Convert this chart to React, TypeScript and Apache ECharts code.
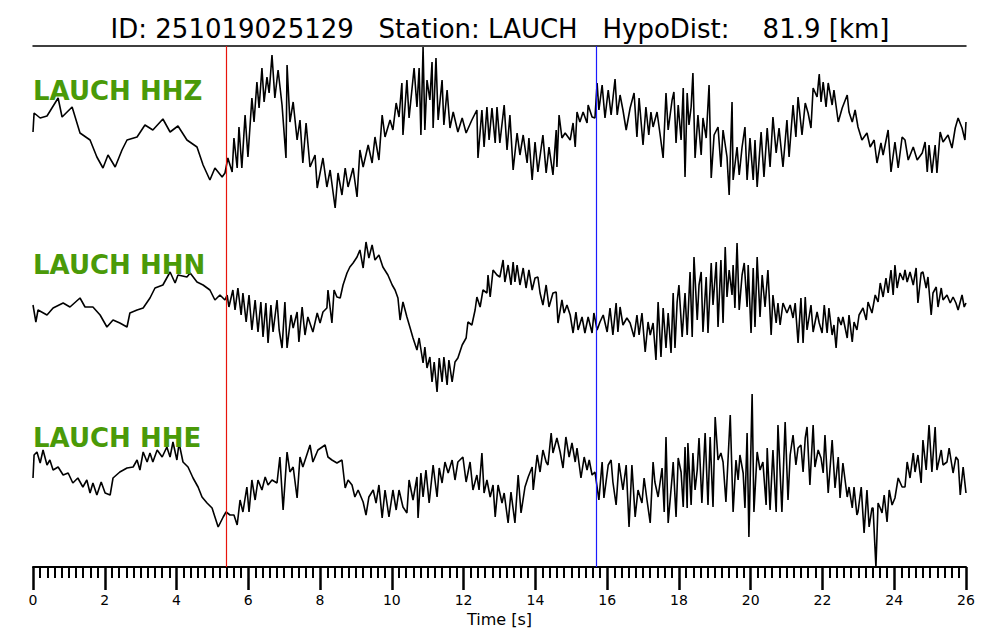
import { useEffect, useRef } from "react";
import * as echarts from "echarts";

const FONT = '"DejaVu Sans", sans-serif';
const TITLE = "ID: 251019025129   Station: LAUCH   HypoDist:    81.9 [km]";
const TIME_MIN = 0;
const TIME_MAX = 26;
const TIME_STEP = 2;
const P_PICK = 5.38;
const S_PICK = 15.69;
const CHANNELS = ["LAUCH HHZ", "LAUCH HHN", "LAUCH HHE"];
const OFFSETS = [440, 265, 95];
const LABEL_VALUES = [476, 302, 129];

// [time (s), amplitude]
const HHZ: [number, number][] = [
  [0,-5],[0.03,14],[0.2,9],[0.39,11],[0.7,29],[0.81,10],[1.09,20],[1.31,-6],[1.59,-13],[1.78,-30],[1.95,-41],[2.09,-28],[2.29,-40],[2.48,-23],[2.62,-13],[2.9,-10],[3.12,2],[3.34,-3],[3.62,8],[3.82,-5],[4.04,1],[4.29,-13],[4.57,-20],[4.74,-38],[4.93,-53],[5.07,-41],[5.27,-50],[5.35,-46],[5.43,-31],[5.55,-45],[5.6,-11],[5.69,-41],[5.74,0],[5.82,-41],[5.91,12],[5.99,-30],[6.1,29],[6.16,5],[6.24,45],[6.3,19],[6.38,59],[6.44,25],[6.52,50],[6.58,34],[6.66,72],[6.74,29],[6.83,57],[6.94,22],[7.05,-31],[7.08,62],[7.16,5],[7.25,25],[7.36,-13],[7.44,7],[7.52,-36],[7.61,4],[7.72,-40],[7.86,-28],[7.92,-61],[8.08,-31],[8.19,-60],[8.28,-43],[8.42,-81],[8.5,-46],[8.61,-68],[8.7,-41],[8.78,-60],[8.92,-41],[9.03,-70],[9.11,-23],[9.2,-40],[9.34,-18],[9.45,-36],[9.53,-10],[9.64,-33],[9.73,12],[9.81,-10],[9.95,7],[10.03,-3],[10.12,24],[10.2,10],[10.28,44],[10.31,-8],[10.42,47],[10.48,9],[10.62,59],[10.7,20],[10.76,59],[10.81,-8],[10.87,80],[10.92,-3],[10.98,47],[11.06,27],[11.12,65],[11.15,-1],[11.23,69],[11.29,7],[11.4,47],[11.45,2],[11.54,37],[11.62,-1],[11.71,15],[11.84,-5],[11.96,9],[12.07,-6],[12.23,7],[12.37,17],[12.4,-31],[12.51,17],[12.57,-20],[12.65,20],[12.71,-13],[12.79,19],[12.88,-16],[12.93,20],[13.01,-16],[13.13,22],[13.21,-23],[13.29,12],[13.38,-43],[13.49,-6],[13.57,-28],[13.66,-8],[13.77,-36],[13.82,-11],[13.91,-53],[13.99,-15],[14.07,-45],[14.21,-8],[14.3,-46],[14.38,-20],[14.49,-48],[14.58,-3],[14.6,-40],[14.66,12],[14.74,-11],[14.83,-6],[14.97,-13],[15.05,4],[15.11,-20],[15.16,15],[15.24,5],[15.33,15],[15.44,4],[15.47,22],[15.58,10],[15.66,9],[15.72,44],[15.77,17],[15.86,42],[15.94,9],[16.03,37],[16.11,12],[16.22,48],[16.28,12],[16.36,32],[16.44,17],[16.53,-3],[16.64,19],[16.75,34],[16.83,-10],[16.89,29],[17.0,-18],[17.08,20],[17.16,-8],[17.22,15],[17.28,0],[17.39,15],[17.47,-6],[17.56,-31],[17.64,34],[17.7,-3],[17.81,27],[17.86,35],[17.92,-16],[17.98,22],[18.06,-13],[18.12,39],[18.17,-50],[18.23,34],[18.28,2],[18.34,20],[18.39,54],[18.45,-31],[18.53,12],[18.62,-28],[18.67,9],[18.76,-11],[18.84,42],[18.9,-51],[18.98,-8],[19.09,0],[19.17,-40],[19.23,-3],[19.34,-30],[19.4,-68],[19.48,25],[19.51,-53],[19.62,-20],[19.68,-48],[19.76,-20],[19.84,0],[19.9,-53],[19.98,-11],[20.07,-53],[20.12,-13],[20.18,-60],[20.29,-5],[20.37,-50],[20.46,-1],[20.54,-40],[20.62,10],[20.71,-26],[20.79,-1],[20.9,-40],[21.01,7],[21.07,-30],[21.18,22],[21.26,-10],[21.32,30],[21.43,-8],[21.52,24],[21.6,14],[21.68,-1],[21.74,39],[21.85,30],[21.91,53],[21.96,25],[22.02,45],[22.1,20],[22.16,44],[22.27,22],[22.32,37],[22.44,5],[22.55,19],[22.69,32],[22.74,15],[22.83,5],[22.91,17],[22.99,0],[23.1,-13],[23.24,-6],[23.33,-20],[23.44,-13],[23.52,-36],[23.63,-16],[23.69,-28],[23.83,-3],[23.91,-45],[24.02,-15],[24.11,-41],[24.22,-10],[24.3,-13],[24.39,-33],[24.53,-20],[24.64,-33],[24.78,-26],[24.86,-15],[24.92,-45],[24.97,-18],[25.05,-46],[25.14,-18],[25.19,-46],[25.28,-5],[25.36,-15],[25.5,-8],[25.61,-21],[25.7,-1],[25.78,9],[25.89,-1],[25.97,-13],[26,5]
];

const HHN: [number, number][] = [
  [0,-3],[0.08,-20],[0.14,-8],[0.39,-13],[0.56,-6],[0.84,-1],[1.03,-5],[1.31,4],[1.45,-5],[1.67,-5],[1.87,-13],[2.06,-25],[2.23,-18],[2.42,-21],[2.62,-25],[2.7,-11],[2.9,-8],[3.07,-6],[3.26,4],[3.4,14],[3.62,17],[3.82,30],[3.96,19],[4.04,27],[4.29,25],[4.38,29],[4.57,20],[4.74,17],[4.93,12],[5.07,2],[5.21,7],[5.35,2],[5.41,7],[5.46,-5],[5.57,12],[5.63,-8],[5.71,14],[5.8,-13],[5.85,9],[5.94,-20],[6.02,7],[6.1,-28],[6.19,2],[6.27,-30],[6.35,0],[6.41,-35],[6.49,-1],[6.55,-41],[6.63,-3],[6.69,-30],[6.8,2],[6.86,-28],[6.94,-46],[7.02,0],[7.08,-46],[7.19,-13],[7.25,-26],[7.36,-10],[7.41,-40],[7.5,-5],[7.58,-33],[7.66,-15],[7.8,-30],[7.92,-11],[8.0,-21],[8.08,-10],[8.19,-6],[8.22,12],[8.33,-21],[8.39,12],[8.47,5],[8.56,4],[8.64,17],[8.75,29],[8.83,35],[8.92,39],[9.03,45],[9.11,52],[9.2,34],[9.28,60],[9.36,44],[9.45,57],[9.53,42],[9.64,47],[9.75,35],[9.89,27],[10.01,17],[10.09,12],[10.17,4],[10.23,-18],[10.31,0],[10.42,-15],[10.51,-26],[10.59,-36],[10.7,-48],[10.76,-36],[10.87,-61],[10.92,-45],[10.98,-66],[11.06,-55],[11.12,-80],[11.18,-60],[11.26,-90],[11.32,-56],[11.4,-80],[11.45,-55],[11.54,-83],[11.59,-58],[11.68,-80],[11.76,-60],[11.84,-56],[11.96,-43],[12.07,-36],[12.12,-20],[12.23,-23],[12.32,-8],[12.37,5],[12.46,-5],[12.54,12],[12.65,9],[12.68,27],[12.74,5],[12.82,32],[12.93,27],[13.01,25],[13.1,42],[13.15,20],[13.24,37],[13.32,17],[13.38,40],[13.43,20],[13.49,37],[13.57,17],[13.66,34],[13.74,14],[13.82,32],[13.91,12],[13.99,24],[14.07,25],[14.13,9],[14.21,-3],[14.3,17],[14.38,-5],[14.49,9],[14.58,10],[14.63,-21],[14.74,2],[14.8,-11],[14.88,-3],[14.97,-13],[15.05,-31],[15.13,-10],[15.19,-28],[15.3,-15],[15.38,-31],[15.47,-15],[15.58,-31],[15.63,-11],[15.72,-28],[15.8,-20],[15.89,-13],[16.0,-30],[16.08,-6],[16.16,-33],[16.25,-1],[16.3,-30],[16.36,-5],[16.44,-23],[16.55,-16],[16.64,-21],[16.75,-35],[16.83,-13],[16.89,-33],[16.97,-11],[17.06,-50],[17.14,-20],[17.2,-33],[17.28,-21],[17.36,-58],[17.42,0],[17.5,-55],[17.56,-6],[17.64,-46],[17.7,-11],[17.78,-51],[17.84,9],[17.89,-46],[17.95,0],[18.0,17],[18.09,-35],[18.17,9],[18.23,-33],[18.31,30],[18.37,-35],[18.42,45],[18.51,-18],[18.56,17],[18.62,30],[18.67,-30],[18.76,25],[18.81,-31],[18.9,39],[18.95,-3],[19.04,40],[19.09,-25],[19.17,42],[19.23,-21],[19.29,55],[19.34,5],[19.4,32],[19.48,7],[19.51,37],[19.56,-6],[19.62,59],[19.68,-8],[19.76,27],[19.82,39],[19.9,-5],[19.93,37],[20.01,-31],[20.07,34],[20.12,-25],[20.18,45],[20.26,-15],[20.32,27],[20.4,-5],[20.48,32],[20.57,-33],[20.62,7],[20.71,-21],[20.76,-1],[20.82,-23],[20.9,-1],[21.01,-11],[21.1,-3],[21.18,-16],[21.24,-1],[21.32,-41],[21.4,4],[21.46,-41],[21.52,5],[21.57,-28],[21.68,-3],[21.74,-30],[21.85,-10],[21.91,-21],[21.99,-31],[22.05,-3],[22.13,-31],[22.18,-6],[22.27,-33],[22.32,-23],[22.38,-46],[22.44,-15],[22.52,-23],[22.57,-15],[22.69,-36],[22.74,-13],[22.83,-40],[22.88,-20],[22.96,-28],[23.02,-13],[23.13,-6],[23.22,-18],[23.27,0],[23.38,-11],[23.47,7],[23.55,0],[23.61,19],[23.69,5],[23.77,24],[23.83,9],[23.91,32],[23.97,7],[24.02,37],[24.08,14],[24.16,29],[24.25,22],[24.3,32],[24.36,20],[24.44,30],[24.53,17],[24.61,34],[24.66,-1],[24.75,29],[24.8,30],[24.89,14],[24.94,25],[25.03,-13],[25.08,9],[25.17,15],[25.22,-5],[25.31,14],[25.36,2],[25.47,7],[25.56,-1],[25.64,5],[25.72,-1],[25.78,-8],[25.89,7],[25.95,-5],[26,-1]
];

const HHE: [number, number][] = [
  [0,-6],[0.03,17],[0.11,20],[0.2,9],[0.28,22],[0.39,7],[0.47,12],[0.56,2],[0.7,5],[0.84,-3],[0.98,-1],[1.11,-11],[1.25,-6],[1.39,-15],[1.5,-8],[1.59,-21],[1.67,-11],[1.78,-23],[1.9,-10],[2.01,-21],[2.15,-23],[2.23,-6],[2.42,0],[2.62,4],[2.79,5],[2.9,12],[2.98,2],[3.07,20],[3.18,10],[3.26,19],[3.34,10],[3.46,22],[3.6,15],[3.73,25],[3.82,15],[3.9,30],[4.01,12],[4.07,29],[4.18,10],[4.32,5],[4.46,-6],[4.6,-15],[4.71,-25],[4.85,-31],[4.99,-36],[5.07,-45],[5.16,-55],[5.3,-45],[5.38,-40],[5.49,-43],[5.6,-43],[5.69,-53],[5.77,-28],[5.85,-40],[5.96,-15],[6.02,-40],[6.1,-8],[6.19,-28],[6.27,-8],[6.38,-18],[6.47,-5],[6.55,-13],[6.66,-8],[6.8,-11],[6.88,15],[6.97,-38],[7.08,20],[7.16,0],[7.25,5],[7.36,-26],[7.44,15],[7.52,5],[7.72,27],[7.8,10],[7.94,22],[8.14,27],[8.22,15],[8.33,12],[8.47,9],[8.61,12],[8.7,-16],[8.78,-8],[8.89,-13],[8.97,-25],[9.06,-18],[9.2,-30],[9.28,-43],[9.36,-25],[9.48,-18],[9.56,-31],[9.64,-13],[9.73,-46],[9.81,-18],[9.92,-45],[10.03,-18],[10.12,-38],[10.2,-18],[10.31,-35],[10.42,-41],[10.48,-8],[10.59,-28],[10.7,-5],[10.73,-46],[10.81,-1],[10.87,-25],[10.95,2],[11.04,-31],[11.15,7],[11.26,-25],[11.32,4],[11.4,-11],[11.48,10],[11.57,-1],[11.68,12],[11.76,-8],[11.84,10],[11.98,15],[12.07,-10],[12.18,10],[12.26,-18],[12.37,-3],[12.43,-18],[12.51,19],[12.57,-21],[12.65,-8],[12.74,-25],[12.82,-13],[12.88,-45],[12.96,-13],[13.07,-31],[13.13,-21],[13.24,-51],[13.32,-20],[13.43,-51],[13.52,-3],[13.6,-41],[13.71,-15],[13.8,-5],[13.91,5],[13.94,-18],[14.05,17],[14.13,0],[14.21,22],[14.3,10],[14.35,7],[14.44,39],[14.49,19],[14.6,34],[14.69,20],[14.77,4],[14.85,35],[14.94,15],[15.02,29],[15.11,10],[15.16,24],[15.27,-6],[15.36,15],[15.44,2],[15.5,12],[15.58,-3],[15.66,0],[15.72,-15],[15.77,-28],[15.86,10],[15.91,-26],[16.03,7],[16.11,12],[16.16,-10],[16.25,-33],[16.33,9],[16.44,-18],[16.53,7],[16.61,-55],[16.69,7],[16.78,-45],[16.86,-18],[16.97,-31],[17.03,-6],[17.11,-28],[17.2,-51],[17.28,10],[17.33,-10],[17.42,-25],[17.53,4],[17.59,-40],[17.64,35],[17.7,-51],[17.81,-5],[17.84,10],[17.92,-45],[17.98,14],[18.06,0],[18.12,-35],[18.17,25],[18.23,-36],[18.25,29],[18.34,-33],[18.39,19],[18.45,-18],[18.51,2],[18.56,34],[18.64,-31],[18.73,39],[18.81,-33],[18.87,35],[18.95,-35],[19.01,55],[19.09,12],[19.17,19],[19.23,10],[19.31,-30],[19.43,57],[19.51,-40],[19.59,12],[19.65,-8],[19.7,17],[19.79,-1],[19.84,-36],[19.9,39],[19.95,-65],[20.04,78],[20.09,-40],[20.18,20],[20.26,2],[20.34,10],[20.43,-33],[20.46,24],[20.54,-38],[20.62,22],[20.71,-40],[20.76,47],[20.87,-40],[20.96,50],[21.04,-28],[21.1,17],[21.18,37],[21.26,7],[21.32,24],[21.4,27],[21.46,0],[21.52,34],[21.57,45],[21.65,-13],[21.74,47],[21.79,5],[21.88,22],[21.96,14],[22.02,-1],[22.07,37],[22.16,-21],[22.27,32],[22.35,-16],[22.44,15],[22.49,-26],[22.57,9],[22.69,-25],[22.74,-15],[22.83,-36],[22.88,-15],[22.96,-43],[22.99,-40],[23.08,-15],[23.16,-61],[23.24,-18],[23.3,-55],[23.38,-36],[23.41,-36],[23.49,-95],[23.55,-31],[23.61,-36],[23.66,-41],[23.72,-23],[23.8,-50],[23.86,-18],[23.94,-33],[24.02,-26],[24.11,-6],[24.22,-15],[24.3,-15],[24.36,10],[24.44,-6],[24.53,19],[24.58,0],[24.66,17],[24.75,-11],[24.8,32],[24.89,2],[24.97,47],[25.05,0],[25.14,45],[25.19,2],[25.31,22],[25.36,7],[25.47,10],[25.53,24],[25.64,-1],[25.72,15],[25.78,12],[25.84,-23],[25.92,5],[26,-21]
];

const TRACES = [HHZ, HHN, HHE];

export default function App() {
  const ref = useRef<HTMLDivElement>(null);

  useEffect(() => {
    document.body.style.margin = "0";
    if (!ref.current) return;
    const chart = echarts.init(ref.current, null, { renderer: "svg" });

    const series: any[] = TRACES.map((tr, i) => ({
      type: "line",
      name: CHANNELS[i],
      data: tr.map(([t, a]) => [t, a + OFFSETS[i]]),
      showSymbol: false,
      symbol: "none",
      silent: true,
      lineStyle: { color: "#000000", width: 1.6 },
      markLine:
        i === 0
          ? {
              silent: true,
              symbol: ["none", "none"],
              label: { show: false },
              data: [
                { xAxis: P_PICK, lineStyle: { color: "#e8140c", width: 1.2, type: "solid" } },
                { xAxis: S_PICK, lineStyle: { color: "#1a1aff", width: 1.2, type: "solid" } },
              ],
            }
          : undefined,
      markPoint: {
        silent: true,
        symbol: "rect",
        symbolSize: 0,
        data: [{ coord: [TIME_MIN, LABEL_VALUES[i]] }],
        label: {
          show: true,
          formatter: CHANNELS[i],
          position: "right",
          distance: 0,
          color: "#4a9a08",
          fontFamily: FONT,
          fontWeight: "bold",
          fontSize: 26,
        },
      },
      z: 3,
    }));

    chart.setOption({
      animation: false,
      backgroundColor: "#ffffff",
      title: {
        text: TITLE,
        left: "center",
        top: 11,
        textStyle: { fontFamily: FONT, fontSize: 26, fontWeight: "normal", color: "#000" },
      },
      grid: { left: 33, right: 34, top: 46, bottom: 73, containLabel: false },
      xAxis: [
        {
          type: "value",
          min: TIME_MIN,
          max: TIME_MAX,
          interval: TIME_STEP,
          position: "bottom",
          name: "Time [s]",
          nameLocation: "middle",
          nameGap: 42,
          nameTextStyle: { fontFamily: FONT, fontSize: 16, color: "#000" },
          axisLine: { show: true, onZero: false, lineStyle: { color: "#000", width: 2 } },
          axisTick: { show: true, inside: false, length: 23, lineStyle: { color: "#000", width: 2.5 } },
          minorTick: { show: true, splitNumber: 10, length: 11, lineStyle: { color: "#000", width: 2 } },
          axisLabel: { fontFamily: FONT, fontSize: 14, color: "#000", margin: 26 },
          splitLine: { show: false },
          minorSplitLine: { show: false },
        },
        {
          type: "value",
          min: TIME_MIN,
          max: TIME_MAX,
          position: "top",
          axisLine: { show: true, onZero: false, lineStyle: { color: "#000", width: 1.5 } },
          axisTick: { show: false },
          axisLabel: { show: false },
          splitLine: { show: false },
        },
      ],
      yAxis: { type: "value", min: 0, max: 521, show: false, splitLine: { show: false } },
      series,
    });

    return () => chart.dispose();
  }, []);

  return <div ref={ref} style={{ width: 1000, height: 640 }} />;
}
